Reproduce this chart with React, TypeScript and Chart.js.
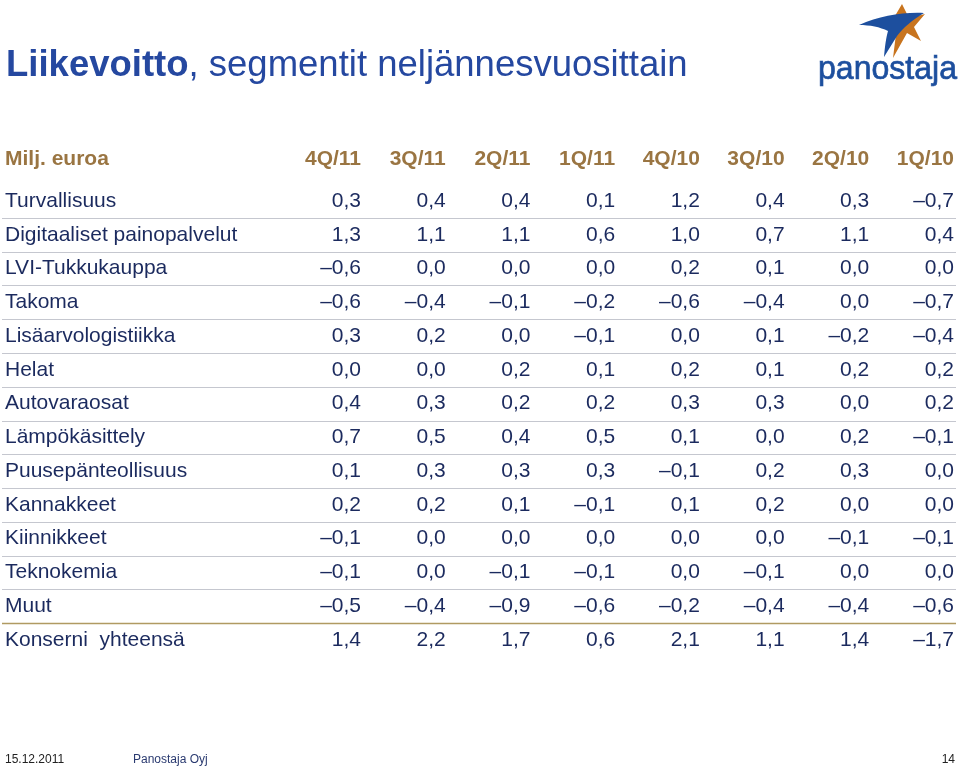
import React, { useEffect, useRef } from "react";
import { Chart, registerables } from "chart.js";

Chart.register(...registerables);

const quarters = ["4Q/11", "3Q/11", "2Q/11", "1Q/11", "4Q/10", "3Q/10", "2Q/10", "1Q/10"];
const segments = [
  "Turvallisuus",
  "Digitaaliset painopalvelut",
  "LVI-Tukkukauppa",
  "Takoma",
  "Lisäarvologistiikka",
  "Helat",
  "Autovaraosat",
  "Lämpökäsittely",
  "Puusepänteollisuus",
  "Kannakkeet",
  "Kiinnikkeet",
  "Teknokemia",
  "Muut",
  "Konserni  yhteensä",
];
const q4_11 = [0.3, 1.3, -0.6, -0.6, 0.3, 0.0, 0.4, 0.7, 0.1, 0.2, -0.1, -0.1, -0.5, 1.4];
const q3_11 = [0.4, 1.1, 0.0, -0.4, 0.2, 0.0, 0.3, 0.5, 0.3, 0.2, 0.0, 0.0, -0.4, 2.2];
const q2_11 = [0.4, 1.1, 0.0, -0.1, 0.0, 0.2, 0.2, 0.4, 0.3, 0.1, 0.0, -0.1, -0.9, 1.7];
const q1_11 = [0.1, 0.6, 0.0, -0.2, -0.1, 0.1, 0.2, 0.5, 0.3, -0.1, 0.0, -0.1, -0.6, 0.6];
const q4_10 = [1.2, 1.0, 0.2, -0.6, 0.0, 0.2, 0.3, 0.1, -0.1, 0.1, 0.0, 0.0, -0.2, 2.1];
const q3_10 = [0.4, 0.7, 0.1, -0.4, 0.1, 0.1, 0.3, 0.0, 0.2, 0.2, 0.0, -0.1, -0.4, 1.1];
const q2_10 = [0.3, 1.1, 0.0, 0.0, -0.2, 0.2, 0.0, 0.2, 0.3, 0.0, -0.1, 0.0, -0.4, 1.4];
const q1_10 = [-0.7, 0.4, 0.0, -0.7, -0.4, 0.2, 0.2, -0.1, 0.0, 0.0, -0.1, 0.0, -0.6, -1.7];
const series = [q4_11, q3_11, q2_11, q1_11, q4_10, q3_10, q2_10, q1_10];
const unitLabel = "Milj. euroa";

const FONT = '"Liberation Sans", Arial, sans-serif';
const NAVY = "#1b2a5e";
const BROWN = "#9a7542";

function fmt(v: number): string {
  const s = Math.abs(v).toFixed(1).replace(".", ",");
  return v < 0 && Math.abs(v) >= 0.05 ? "\u2013" + s : s;
}

const tablePlugin = {
  id: "tableText",
  afterDraw(chart: any) {
    const ctx = chart.ctx as CanvasRenderingContext2D;
    const xs = chart.scales.x;
    const ys = chart.scales.y;
    ctx.save();
    ctx.textBaseline = "middle";
    const rowGap = ys.getPixelForValue(1) - ys.getPixelForValue(0);
    for (let r = 0; r < segments.length - 1; r++) {
      const y = Math.round((ys.getPixelForValue(r) + ys.getPixelForValue(r + 1)) / 2) + 0.5;
      const golden = r === segments.length - 2;
      ctx.strokeStyle = golden ? "#b09a62" : "#c5c7cf";
      ctx.lineWidth = golden ? 1.5 : 1;
      ctx.beginPath();
      ctx.moveTo(2, y);
      ctx.lineTo(956, y);
      ctx.stroke();
    }
    const hy = ys.getPixelForValue(0) - rowGap * 1.25;
    ctx.font = "bold 21px " + FONT;
    ctx.fillStyle = BROWN;
    ctx.textAlign = "left";
    ctx.fillText(unitLabel, 5, hy);
    ctx.textAlign = "right";
    quarters.forEach((q, c) => ctx.fillText(q, xs.getPixelForValue(c), hy));
    ctx.font = "21px " + FONT;
    ctx.fillStyle = NAVY;
    segments.forEach((seg, r) => {
      const y = ys.getPixelForValue(r);
      ctx.textAlign = "left";
      ctx.fillText(seg, 5, y);
      ctx.textAlign = "right";
      series.forEach((vals, c) => ctx.fillText(fmt(vals[r]), xs.getPixelForValue(c), y));
    });
    ctx.restore();
  },
};

function Logo() {
  return (
    <svg width="160" height="95" viewBox="800 0 160 95" style={{ position: "absolute", left: 800, top: 0 }}>
      <path d="M902,4 L909,18 L925,14 L914,27 L921,41 L907,33 L893,58 L896,34 L892,21 Z" fill="#c8741e" />
      <path d="M859,25 C880,16 902,12 924,13 C912,20 903,28 897,36 L884,57 C885,46 886,38 888,31 C880,27 870,25 859,25 Z" fill="#1d4f9e" />
      <text
        x="818"
        y="79"
        fontFamily='"Liberation Sans", Arial, sans-serif'
        fontSize="34"
        fill="#1d4f9e"
        stroke="#1d4f9e"
        strokeWidth="0.7"
        textLength="139"
        lengthAdjust="spacingAndGlyphs"
      >
        panostaja
      </text>
    </svg>
  );
}

export default function App() {
  const ref = useRef<HTMLCanvasElement>(null);
  useEffect(() => {
    document.body.style.margin = "0";
    const chart = new Chart(ref.current!, {
      type: "line",
      data: { labels: quarters, datasets: [] },
      options: {
        animation: false,
        responsive: false,
        maintainAspectRatio: false,
        layout: { padding: { left: 361, right: 6, top: 201, bottom: 133 } },
        plugins: { legend: { display: false }, tooltip: { enabled: false } },
        scales: {
          x: { type: "category", labels: quarters, offset: false, display: false },
          y: { type: "category", labels: segments, offset: false, display: false },
        },
      },
      plugins: [tablePlugin],
    });
    return () => chart.destroy();
  }, []);
  return (
    <div style={{ position: "relative", width: 960, height: 773, background: "#fff", overflow: "hidden" }}>
      <canvas ref={ref} width={960} height={773} style={{ position: "absolute", left: 0, top: 0 }} />
      <div
        style={{
          position: "absolute",
          left: 6,
          top: 42,
          fontFamily: FONT,
          fontSize: 36.5,
          color: "#2548a0",
          whiteSpace: "nowrap",
          lineHeight: "44px",
        }}
      >
        <b>Liikevoitto</b>, segmentit neljännesvuosittain
      </div>
      <Logo />
      <div style={{ position: "absolute", left: 5, top: 752, fontFamily: FONT, fontSize: 12, color: "#222" }}>15.12.2011</div>
      <div style={{ position: "absolute", left: 133, top: 752, fontFamily: FONT, fontSize: 12, color: "#2a3a70" }}>Panostaja Oyj</div>
      <div style={{ position: "absolute", right: 5, top: 752, fontFamily: FONT, fontSize: 12, color: "#222" }}>14</div>
    </div>
  );
}
